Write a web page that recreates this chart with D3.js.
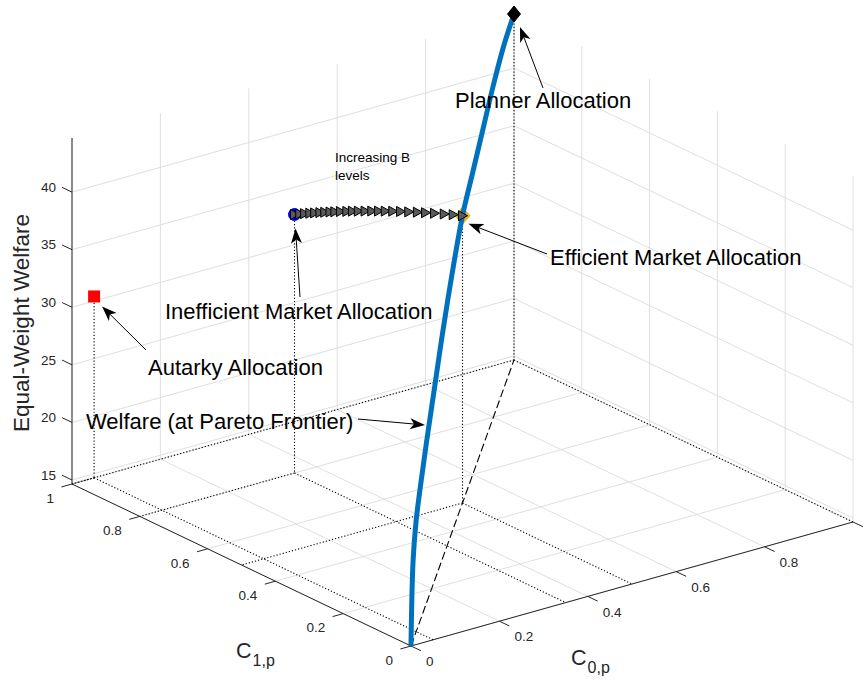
<!DOCTYPE html>
<html>
<head>
<meta charset="utf-8">
<script src="https://cdn.jsdelivr.net/npm/d3@7"></script>
<style>
body { margin: 0; background: #fff; }
text { font-family: "Liberation Sans", Arial, Helvetica, sans-serif; }
</style>
</head>
<body>
<div id="visualization"></div>
<script>
// pareto frontier: C0,p = C1,p = share, welfare
var frontierShare = [0, 0.02, 0.05, 0.1, 0.15, 0.2, 0.25, 0.3, 0.4, 0.5, 0.6, 0.7, 0.8, 0.9, 1.0];
var frontierWelfare = [14.65, 21.5, 24.3, 26.6, 28.6, 30.4, 32.2, 34.0, 37.1, 39.6, 40.9, 42.2, 43.5, 44.4, 44.7];

// increasing B levels (inefficient -> efficient)
var bC0 = [0.350, 0.355, 0.359, 0.364, 0.368, 0.373, 0.377, 0.382, 0.386, 0.391, 0.397, 0.402, 0.407,
           0.413, 0.419, 0.425, 0.431, 0.438, 0.445, 0.452, 0.460, 0.467, 0.475, 0.484, 0.492, 0.500];
var bC1 = [0.800, 0.791, 0.782, 0.773, 0.764, 0.755, 0.746, 0.737, 0.728, 0.718, 0.707, 0.697, 0.686,
           0.674, 0.662, 0.650, 0.638, 0.625, 0.611, 0.596, 0.581, 0.566, 0.550, 0.533, 0.517, 0.500];
var bWelfare = [37.10, 37.22, 37.33, 37.44, 37.55, 37.65, 37.76, 37.86, 37.96, 38.07, 38.17, 38.28, 38.38,
                38.49, 38.60, 38.70, 38.80, 38.90, 39.00, 39.10, 39.20, 39.29, 39.38, 39.46, 39.54, 39.60];

// allocations
var allocNames = ["Autarky Allocation", "Inefficient Market Allocation", "Efficient Market Allocation", "Planner Allocation"];
var allocC0 = [0.05, 0.35, 0.5, 1.0];
var allocC1 = [1.0, 0.8, 0.5, 1.0];
var allocWelfare = [30.4, 37.1, 39.6, 44.7];

var cTicks = [0, 0.2, 0.4, 0.6, 0.8, 1];
var wTicks = [15, 20, 25, 30, 35, 40];
var wDomain = [14.65, 44.7];

var width = 868, height = 681;
var origin = [411, 646];

// orthographic 3d view: every axis gets an x and a y screen scale
var c0x = d3.scaleLinear().domain([0, 1]).range([0, 442]);
var c0y = d3.scaleLinear().domain([0, 1]).range([0, -124]);
var c1x = d3.scaleLinear().domain([0, 1]).range([0, -339]);
var c1y = d3.scaleLinear().domain([0, 1]).range([0, -162]);
var wy = d3.scaleLinear().domain(wDomain).range([0, -346]);

function proj(a, b, w) {
    return [origin[0] + c0x(a) + c1x(b), origin[1] + c0y(a) + c1y(b) + wy(w)];
}
var w0 = wDomain[0], w1 = wDomain[1];

var svg = d3.select("#visualization").append("svg")
    .attr("width", width)
    .attr("height", height);

function seg(g, p, q, stroke, sw, dash) {
    var l = g.append("line")
        .attr("x1", p[0]).attr("y1", p[1])
        .attr("x2", q[0]).attr("y2", q[1])
        .attr("stroke", stroke)
        .attr("stroke-width", sw);
    if (dash) l.attr("stroke-dasharray", dash);
    return l;
}

// grid on floor and the two back walls
var grid = svg.append("g");
var gridColor = "#dfdfdf";
cTicks.forEach(function(t) {
    seg(grid, proj(t, 0, w0), proj(t, 1, w0), gridColor, 1);
    seg(grid, proj(0, t, w0), proj(1, t, w0), gridColor, 1);
    seg(grid, proj(t, 1, w0), proj(t, 1, w1), gridColor, 1);
    seg(grid, proj(1, t, w0), proj(1, t, w1), gridColor, 1);
});
wTicks.forEach(function(z) {
    seg(grid, proj(0, 1, z), proj(1, 1, z), gridColor, 1);
    seg(grid, proj(1, 1, z), proj(1, 0, z), gridColor, 1);
});

// axes
var axes = svg.append("g");
var axisColor = "#262626";
seg(axes, proj(0, 0, w0), proj(0, 1, w0), axisColor, 1);
seg(axes, proj(0, 0, w0), proj(1, 0, w0), axisColor, 1);
seg(axes, proj(0, 1, w0), proj(0, 1, w1), axisColor, 1);

var tickLen = 11;
var dC0 = [-0.963, 0.270];   // along -C0
var dC1 = [0.902, 0.431];    // along -C1
cTicks.forEach(function(t) {
    var p = proj(0, t, w0);
    seg(axes, p, [p[0] + dC0[0] * tickLen, p[1] + dC0[1] * tickLen], axisColor, 1);
    axes.append("text")
        .attr("x", p[0] - 18).attr("y", p[1] + 14).attr("dy", "0.35em")
        .attr("text-anchor", "end")
        .attr("font-size", 13.5).attr("fill", axisColor)
        .text(d3.format("~g")(t));
    var q = proj(t, 0, w0);
    seg(axes, q, [q[0] + dC1[0] * tickLen, q[1] + dC1[1] * tickLen], axisColor, 1);
    // the last C0 label falls outside the figure (clipped in the original)
    if (q[0] + 25 < width) {
        axes.append("text")
            .attr("x", q[0] + 15).attr("y", q[1] + 15.5).attr("dy", "0.35em")
            .attr("text-anchor", "start")
            .attr("font-size", 13.5).attr("fill", axisColor)
            .text(d3.format("~g")(t));
    }
});
wTicks.forEach(function(z) {
    var p = proj(0, 1, z);
    seg(axes, p, [p[0] - dC1[0] * tickLen, p[1] - dC1[1] * tickLen], axisColor, 1);
    axes.append("text")
        .attr("x", p[0] - 16).attr("y", p[1] - 5).attr("dy", "0.35em")
        .attr("text-anchor", "end")
        .attr("font-size", 13.5).attr("fill", axisColor)
        .text(z);
});

// axis labels
axes.append("text")
    .attr("transform", "translate(29,323) rotate(-90)")
    .attr("text-anchor", "middle")
    .attr("font-size", 22.5).attr("fill", axisColor)
    .text("Equal-Weight Welfare");

var lab1 = axes.append("text").attr("x", 236).attr("y", 658).attr("font-size", 21.5).attr("fill", axisColor);
lab1.append("tspan").text("C");
lab1.append("tspan").attr("font-size", 16).attr("dy", 8).attr("dx", 1).text("1,p");
var lab0 = axes.append("text").attr("x", 571).attr("y", 665).attr("font-size", 21.5).attr("fill", axisColor);
lab0.append("tspan").text("C");
lab0.append("tspan").attr("font-size", 16).attr("dy", 8).attr("dx", 1).text("0,p");

// drop lines from each allocation to floor and to both axes
var drops = svg.append("g");
allocC0.forEach(function(a, i) {
    var b = allocC1[i], w = allocWelfare[i];
    seg(drops, proj(a, b, w), proj(a, b, w0), "#000", 1.1, "1.2,2");
    seg(drops, proj(a, b, w0), proj(a, 0, w0), "#000", 1.1, "1.2,2");
    seg(drops, proj(a, b, w0), proj(0, b, w0), "#000", 1.1, "1.2,2");
});

// frontier projection on floor
var floorLine = d3.line().x(function(d) { return d[0]; }).y(function(d) { return d[1]; });
svg.append("path")
    .datum([proj(0, 0, w0), proj(1, 1, w0)])
    .attr("d", floorLine)
    .attr("fill", "none")
    .attr("stroke", "#000")
    .attr("stroke-width", 1.1)
    .attr("stroke-dasharray", "8,3.5");

// autarky
var pa = proj(allocC0[0], allocC1[0], allocWelfare[0]);
svg.append("rect")
    .attr("x", pa[0] - 6).attr("y", pa[1] - 6)
    .attr("width", 12).attr("height", 12)
    .attr("fill", "#ff0000");

// efficient market
var pe = proj(allocC0[2], allocC1[2], allocWelfare[2]);
svg.append("path")
    .attr("d", "M0,-8 L7,0 L0,8 L-7,0 Z")
    .attr("transform", "translate(" + pe[0] + "," + pe[1] + ")")
    .attr("fill", "#EDB120").attr("stroke", "#EDB120").attr("stroke-width", 1.5);

// inefficient market
var pi = proj(allocC0[1], allocC1[1], allocWelfare[1]);
svg.append("circle")
    .attr("cx", pi[0]).attr("cy", pi[1]).attr("r", 6)
    .attr("fill", "#0000ff").attr("stroke", "#0000ff");

// welfare along pareto frontier
var frontierPts = frontierShare.map(function(t, i) { return proj(t, t, frontierWelfare[i]); });
var line = d3.line()
    .x(function(d) { return d[0]; })
    .y(function(d) { return d[1]; })
    .curve(d3.curveCatmullRom.alpha(0.5));
svg.append("path")
    .datum(frontierPts)
    .attr("d", line)
    .attr("fill", "none")
    .attr("stroke", "#0072BD")
    .attr("stroke-width", 5);

// B levels
svg.selectAll(".tri")
    .data(bC0)
  .enter().append("path")
    .attr("class", "tri")
    .attr("d", "M5,0 L-4,-5 L-4,5 Z")
    .attr("transform", function(d, i) {
        var p = proj(d, bC1[i], bWelfare[i]);
        return "translate(" + p[0] + "," + p[1] + ")";
    })
    .attr("fill", "#5a5a5a")
    .attr("stroke", "#000")
    .attr("stroke-width", 1);

// planner
var pp = proj(allocC0[3], allocC1[3], allocWelfare[3]);
svg.append("path")
    .attr("d", "M0,-8 L6.5,0 L0,8 L-6.5,0 Z")
    .attr("transform", "translate(" + pp[0] + "," + pp[1] + ")")
    .attr("fill", "#000").attr("stroke", "#000");

// text arrows (tail in pixels, tip next to the marker)
var notes = svg.append("g");
function arrow(tail, tip) {
    var ang = Math.atan2(tip[1] - tail[1], tip[0] - tail[0]);
    var L = 15, W = 11, notch = 4;
    var ca = Math.cos(ang), sa = Math.sin(ang);
    function rot(x, y) { return [tip[0] + x * ca - y * sa, tip[1] + x * sa + y * ca]; }
    var back = rot(-L + notch, 0);
    seg(notes, tail, back, "#000", 1);
    var pts = [rot(0, 0), rot(-L, -W / 2), back, rot(-L, W / 2)];
    notes.append("polygon")
        .attr("points", pts.map(function(p) { return p.join(","); }).join(" "))
        .attr("fill", "#000");
}
function note(txt, x, y) {
    notes.append("text")
        .attr("x", x).attr("y", y)
        .attr("font-size", 22).attr("fill", "#000")
        .text(txt);
}

arrow([543, 88], [pp[0] + 6, pp[1] + 13]);
note(allocNames[3], 455, 108);
arrow([547, 254], [pe[0] + 6, pe[1] + 8]);
note(allocNames[2], 550, 265);
arrow([300, 297], [pi[0] + 1, pi[1] + 14]);
note(allocNames[1], 165, 319);
arrow([146, 350], [pa[0] + 8, pa[1] + 10]);
note(allocNames[0], 148, 375);
arrow([358, 419], [425, 425]);
note("Welfare (at Pareto Frontier)", 86, 429);

var inc = notes.append("text").attr("font-size", 13.5).attr("fill", "#000");
inc.append("tspan").attr("x", 335).attr("y", 162).text("Increasing B");
inc.append("tspan").attr("x", 335).attr("y", 180).text("levels");
</script>
</body>
</html>
